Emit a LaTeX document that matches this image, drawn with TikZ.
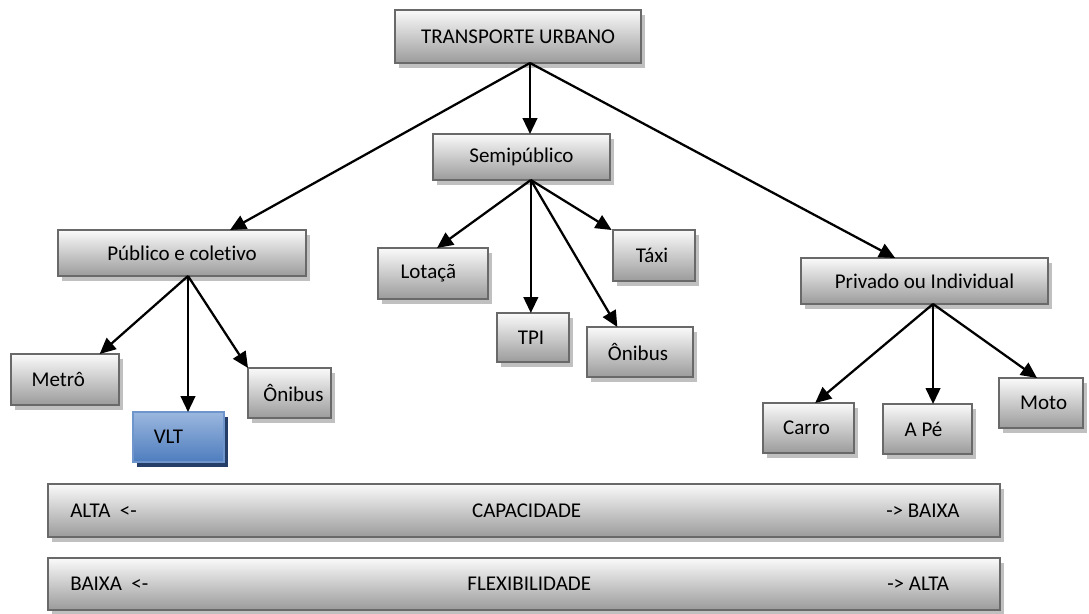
\documentclass[tikz,border=0pt]{standalone}
\usepackage{fontspec}
\setmainfont{Carlito}[Ligatures=NoCommon]
\usetikzlibrary{arrows.meta,shadows}
\definecolor{bordergray}{RGB}{105,105,105}
\definecolor{shadowgray}{RGB}{192,192,192}
\definecolor{topgray}{RGB}{250,250,250}
\definecolor{botgray}{RGB}{155,155,155}
\definecolor{vlttop}{RGB}{155,183,222}
\definecolor{vltbot}{RGB}{78,125,190}
\definecolor{vltborder}{RGB}{110,150,205}
\definecolor{vltshadow}{RGB}{36,62,104}
\tikzset{
  gbox/.style={draw=bordergray, line width=1.5pt, top color=topgray, bottom color=botgray,
    inner sep=0pt, outer sep=0pt, font=\fontsize{15.75}{19}\selectfont,
    general shadow={fill=shadowgray, shadow xshift=3pt, shadow yshift=-4pt}},
  bbox/.style={draw=vltborder, line width=1.5pt, top color=vlttop, bottom color=vltbot,
    inner sep=0pt, outer sep=0pt, font=\fontsize{15.75}{19}\selectfont,
    general shadow={fill=vltshadow, shadow xshift=3pt, shadow yshift=-4pt}},
  lbl/.style={inner sep=0pt, font=\fontsize{15.75}{19}\selectfont},
  arr/.style={line width=1.7pt, -{Triangle[length=12pt,width=11pt]}}
}
\begin{document}
\begin{tikzpicture}[x=0.75pt,y=-0.75pt]
\useasboundingbox (0,0) rectangle (1089,614);
% level 0
\node[gbox, minimum width=184.5pt, minimum height=39.75pt] (title) at (518,36.5) {TRANSPORTE URBANO};
% level 1
\node[gbox, minimum width=132.75pt, minimum height=34.5pt] (semi) at (521.5,157) {Semipúblico};
\node[gbox, minimum width=186pt, minimum height=34.5pt] (pub) at (182,253) {Público e coletivo};
\node[gbox, minimum width=185.25pt, minimum height=34.5pt] (priv) at (924.5,281) {Privado ou Individual};
% level 2 - público
\node[gbox, minimum width=81pt, minimum height=38.25pt] (metro) at (65,379.5) {Metrô\kern10pt};
\node[bbox, minimum width=68.25pt, minimum height=37.5pt] (vlt) at (178.5,437) {VLT\kern15pt};
\node[gbox, minimum width=62.25pt, minimum height=37.5pt] (onib1) at (289.5,393) {\kern6pt Ônibus};
% level 2 - semipúblico
\node[gbox, minimum width=82.5pt, minimum height=38.25pt] (lotaca) at (433,273.5) {Lotaçã\kern7pt};
\node[gbox, minimum width=54pt, minimum height=36.75pt] (tpi) at (533,337.5) {TPI\kern3pt};
\node[gbox, minimum width=79.5pt, minimum height=37.5pt] (onib2) at (640,352) {Ônibus\kern3pt};
\node[gbox, minimum width=61.5pt, minimum height=38.25pt] (taxi) at (654,255.5) {Táxi\kern3pt};
% level 2 - privado
\node[gbox, minimum width=68.25pt, minimum height=37.5pt] (carro) at (808.5,428) {Carro\kern3pt};
\node[gbox, minimum width=66.75pt, minimum height=37.5pt] (ape) at (927.5,429) {A Pé\kern6pt};
\node[gbox, minimum width=63pt, minimum height=37.5pt] (moto) at (1041,403) {\kern4pt Moto};
% bars
\node[gbox, minimum width=714pt, minimum height=39.75pt] (bar1) at (524,510.5) {\kern4pt CAPACIDADE};
\node[gbox, minimum width=714pt, minimum height=39pt] (bar2) at (524,584) {\kern8pt FLEXIBILIDADE};
\node[lbl, anchor=west] (alta1) at ([xshift=16.5pt]bar1.west) {ALTA~~<-};
\node[lbl, anchor=west] (baixa1) at ([xshift=-85.5pt]bar1.east) {-> BAIXA};
\node[lbl, anchor=west] (baixa2) at ([xshift=16.5pt]bar2.west) {BAIXA~~<-};
\node[lbl, anchor=west] (alta2) at ([xshift=-84.75pt]bar2.east) {-> ALTA};
% source points
\coordinate (t0) at ([xshift=9pt]title.south);
\coordinate (s0) at ([xshift=7pt]semi.south);
\coordinate (p0) at ([xshift=4.5pt]pub.south);
\coordinate (r0) at ([xshift=6.4pt]priv.south);
% connectors
\draw[arr] (t0) -- (t0 |- semi.north);
\draw[arr] (t0) -- ([xshift=36pt]pub.north);
\draw[arr] (t0) -- ([xshift=-22pt]priv.north);
\draw[arr] (s0) -- ([xshift=3pt]lotaca.north);
\draw[arr] (s0) -- (s0 |- tpi.north);
\draw[arr] (s0) -- ([xshift=-17pt]onib2.north);
\draw[arr] (s0) -- ([xshift=-1pt]taxi.north west);
\draw[arr] (p0) -- ([xshift=26pt]metro.north);
\draw[arr] (p0) -- (p0 |- vlt.north);
\draw[arr] (p0) -- (onib1.north west);
\draw[arr] (r0) -- ([xshift=5pt]carro.north);
\draw[arr] (r0) -- (r0 |- ape.north);
\draw[arr] (r0) -- ([xshift=-3pt]moto.north);
\end{tikzpicture}
\end{document}
